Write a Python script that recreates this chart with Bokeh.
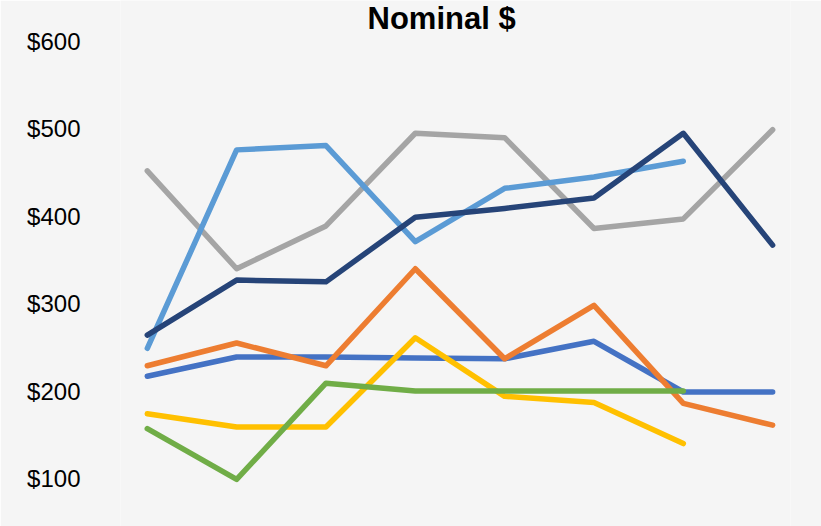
from bokeh.plotting import figure
from bokeh.models import Range1d, FixedTicker, NumeralTickFormatter, Label
from bokeh.embed import file_html
from bokeh.resources import INLINE

periods = [0, 1, 2, 3, 4, 5, 6, 7]

series_blue = [217, 239, 239, 238, 237, 257, 199, 199]
series_orange = [229, 255, 229, 340, 237, 298, 186, 161]
series_gray = [452, 340, 389, 495, 490, 386, 397, 499]
series_yellow = [174, 159, 159, 261, 194, 187, 140]
series_lightblue = [249, 476, 481, 371, 432, 445, 463]
series_green = [157, 99, 209, 200, 200, 200, 200]
series_navy = [264, 327, 325, 399, 409, 421, 495, 367]

y_ticks = [100, 200, 300, 400, 500, 600]
title_text = "Nominal $"

colors = {
    "blue": "#4472C4",
    "orange": "#ED7D31",
    "gray": "#A5A5A5",
    "yellow": "#FFC000",
    "lightblue": "#5B9BD5",
    "green": "#70AD47",
    "navy": "#264478",
}

BG = "#f5f5f5"

p = figure(width=821, height=526, output_backend="svg", toolbar_location=None,
           x_axis_location=None,
           x_range=Range1d(-0.3, 7.2), y_range=Range1d(45.1, 646.9),
           min_border_left=120, min_border_right=31,
           min_border_top=0, min_border_bottom=0,
           background_fill_color=BG, border_fill_color=BG)
p.outline_line_color = None
p.grid.visible = False

ax = p.yaxis[0]
ax.ticker = FixedTicker(ticks=y_ticks)
ax.formatter = NumeralTickFormatter(format="$0")
ax.axis_line_color = None
ax.major_tick_line_color = None
ax.minor_tick_line_color = None
ax.major_label_text_font = "Liberation Sans"
ax.major_label_text_font_size = "24px"
ax.major_label_text_color = "#000000"
ax.major_label_standoff = 34

order = [
    (series_blue, "blue"),
    (series_orange, "orange"),
    (series_gray, "gray"),
    (series_yellow, "yellow"),
    (series_lightblue, "lightblue"),
    (series_green, "green"),
    (series_navy, "navy"),
]
for ys, c in order:
    p.line(periods[:len(ys)], ys, line_color=colors[c], line_width=5.5,
           line_cap="round", line_join="round")

title = Label(x=247, y=508, x_units="screen", y_units="screen", text=title_text,
              text_font="Liberation Sans", text_font_style="bold",
              text_font_size="31px", text_color="#000000",
              text_baseline="alphabetic", text_align="left")
p.add_layout(title)

open("out.html", "w").write(file_html(p, INLINE))
